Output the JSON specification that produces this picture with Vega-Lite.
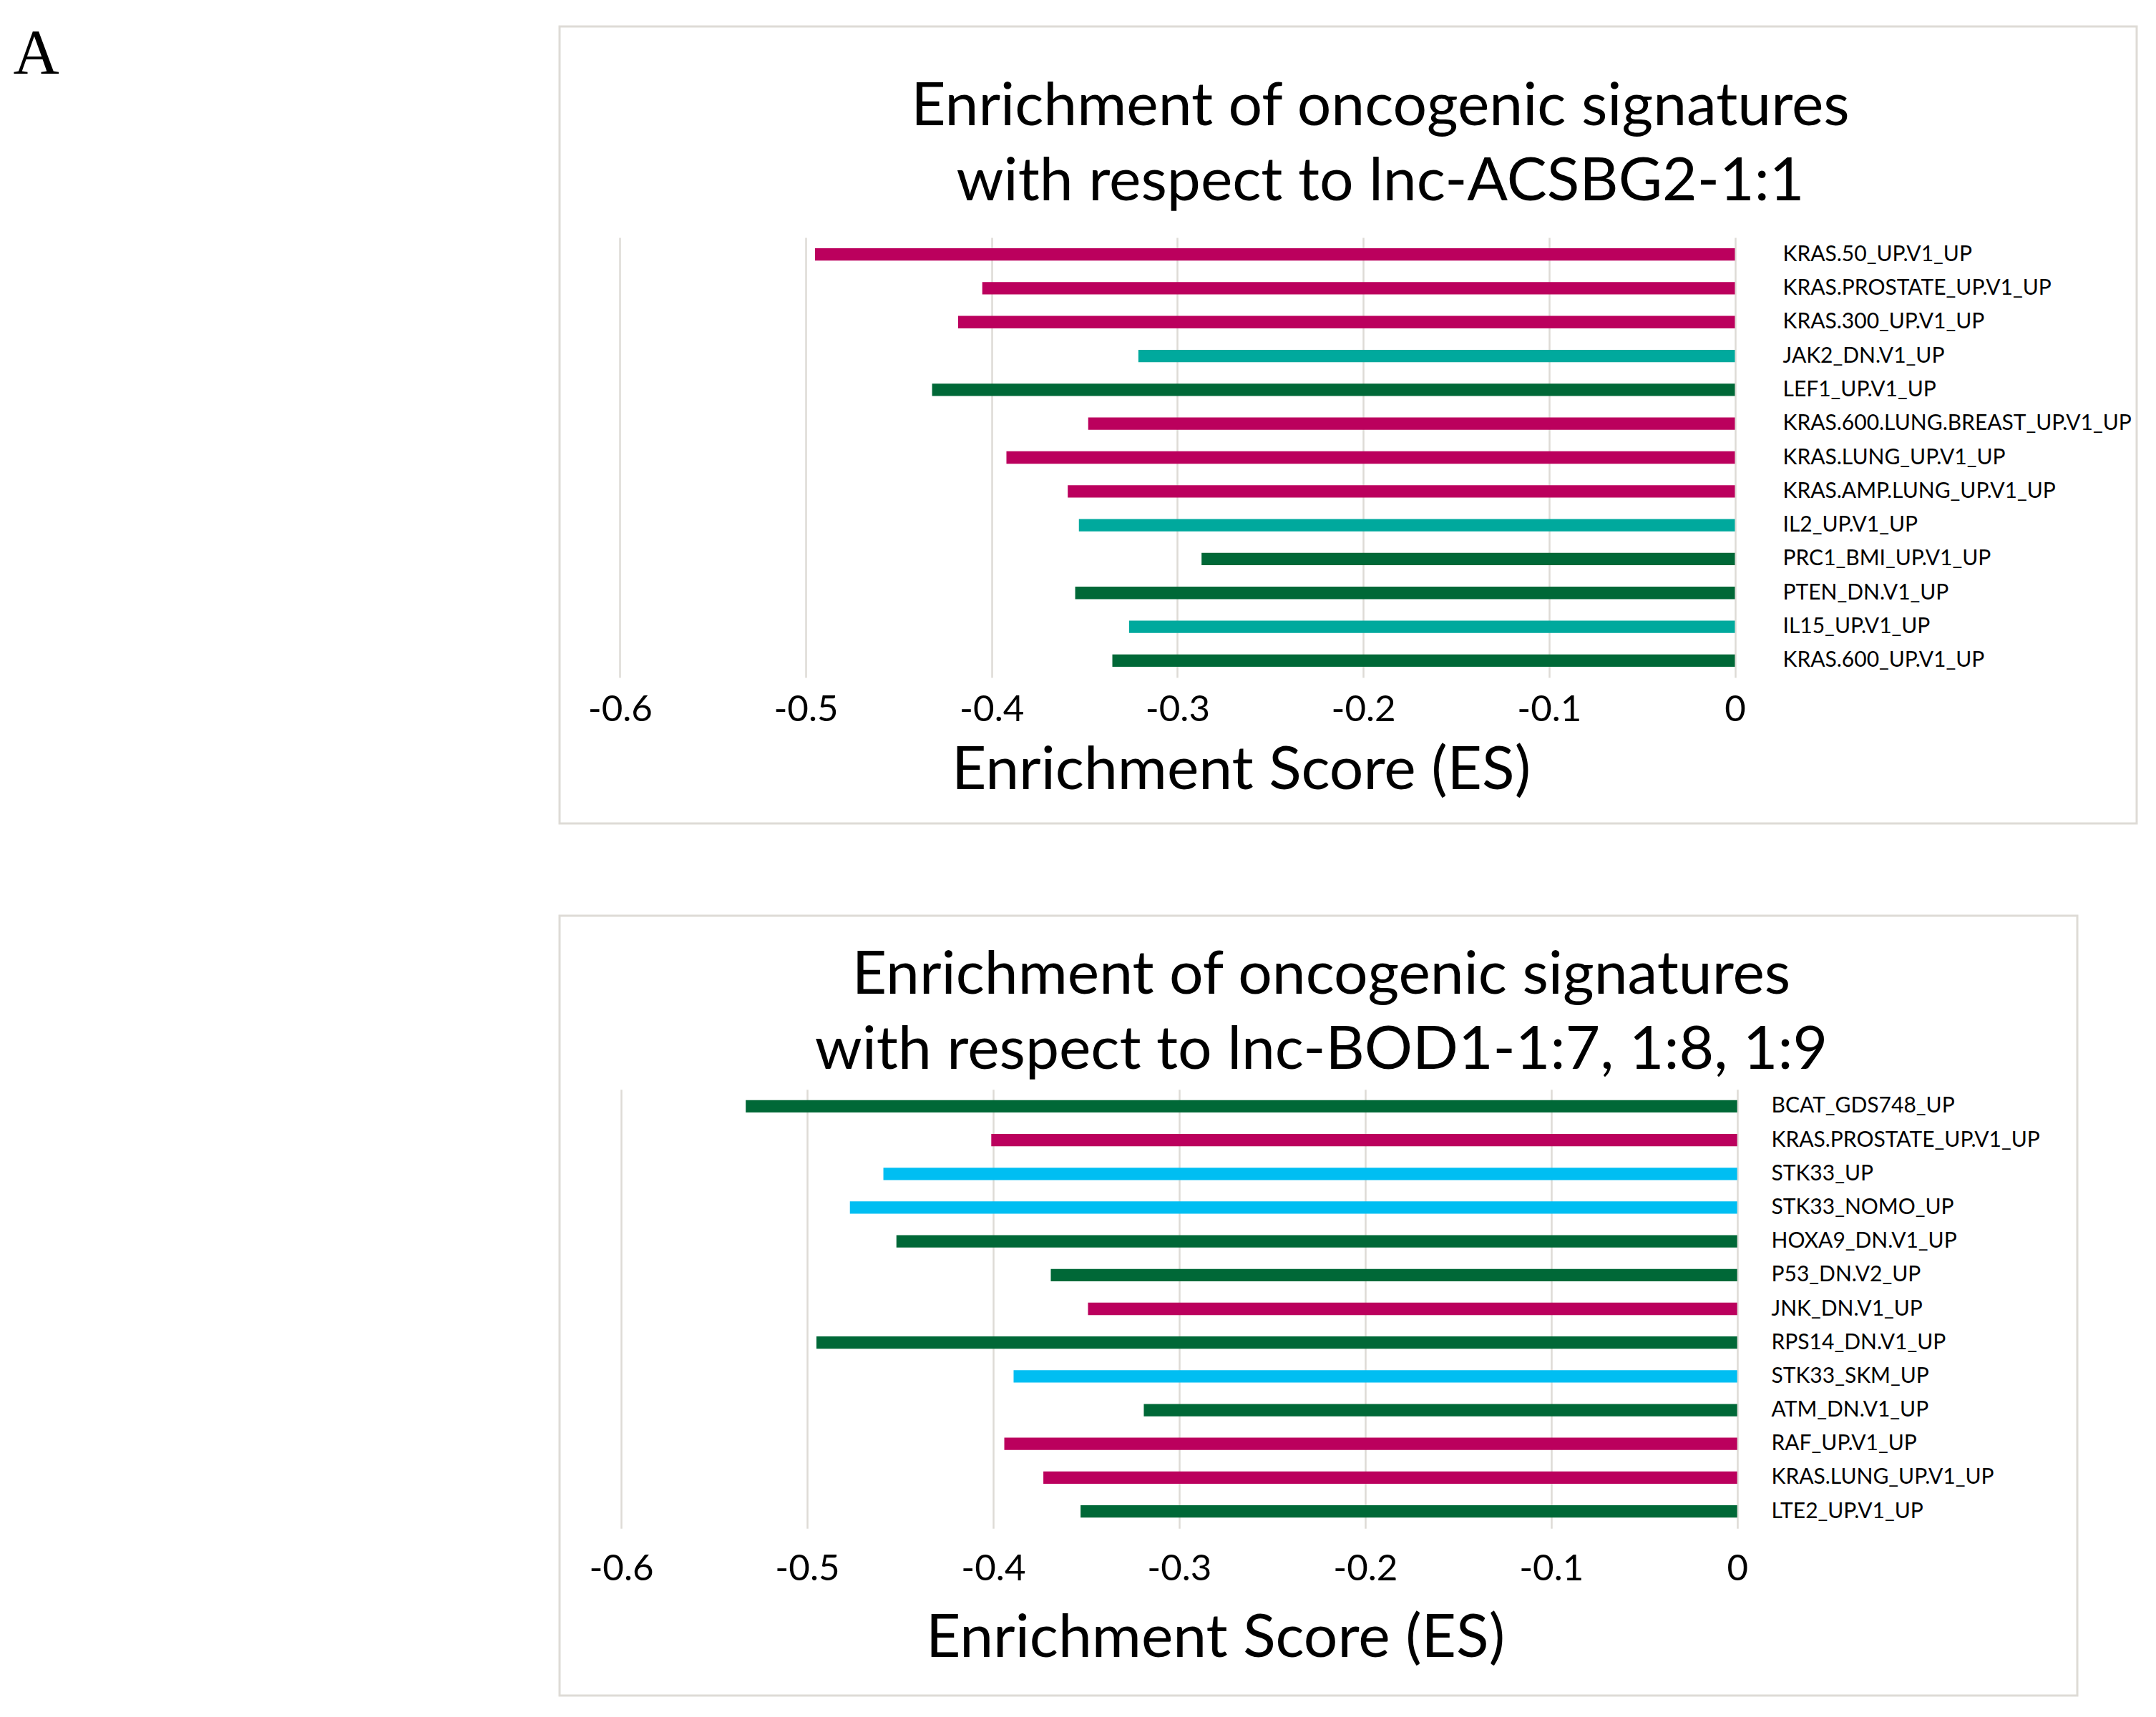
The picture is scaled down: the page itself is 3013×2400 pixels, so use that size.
{
  "$schema": "https://vega.github.io/schema/vega-lite/v6.json",
  "background": "white",
  "padding": {"left": 18, "top": 30, "right": 0, "bottom": 0},
  "autosize": {"type": "pad"},
  "title": {
    "text": "A",
    "anchor": "start",
    "frame": "bounds",
    "offset": -155,
    "dx": -762,
    "baseline": "alphabetic",
    "font": "Liberation Serif",
    "fontSize": 89,
    "fontWeight": "normal",
    "color": "black"
  },
  "datasets": {
    "top": [
      {"name": "KRAS.50_UP.V1_UP", "es": -0.495, "group": "KRAS/MAPK"},
      {"name": "KRAS.PROSTATE_UP.V1_UP", "es": -0.405, "group": "KRAS/MAPK"},
      {"name": "KRAS.300_UP.V1_UP", "es": -0.418, "group": "KRAS/MAPK"},
      {"name": "JAK2_DN.V1_UP", "es": -0.321, "group": "cytokine"},
      {"name": "LEF1_UP.V1_UP", "es": -0.432, "group": "other"},
      {"name": "KRAS.600.LUNG.BREAST_UP.V1_UP", "es": -0.348, "group": "KRAS/MAPK"},
      {"name": "KRAS.LUNG_UP.V1_UP", "es": -0.392, "group": "KRAS/MAPK"},
      {"name": "KRAS.AMP.LUNG_UP.V1_UP", "es": -0.359, "group": "KRAS/MAPK"},
      {"name": "IL2_UP.V1_UP", "es": -0.353, "group": "cytokine"},
      {"name": "PRC1_BMI_UP.V1_UP", "es": -0.287, "group": "other"},
      {"name": "PTEN_DN.V1_UP", "es": -0.355, "group": "other"},
      {"name": "IL15_UP.V1_UP", "es": -0.326, "group": "cytokine"},
      {"name": "KRAS.600_UP.V1_UP", "es": -0.335, "group": "other"}
    ],
    "bottom": [
      {"name": "BCAT_GDS748_UP", "es": -0.533, "group": "other"},
      {"name": "KRAS.PROSTATE_UP.V1_UP", "es": -0.401, "group": "KRAS/MAPK"},
      {"name": "STK33_UP", "es": -0.459, "group": "STK33"},
      {"name": "STK33_NOMO_UP", "es": -0.477, "group": "STK33"},
      {"name": "HOXA9_DN.V1_UP", "es": -0.452, "group": "other"},
      {"name": "P53_DN.V2_UP", "es": -0.369, "group": "other"},
      {"name": "JNK_DN.V1_UP", "es": -0.349, "group": "KRAS/MAPK"},
      {"name": "RPS14_DN.V1_UP", "es": -0.495, "group": "other"},
      {"name": "STK33_SKM_UP", "es": -0.389, "group": "STK33"},
      {"name": "ATM_DN.V1_UP", "es": -0.319, "group": "other"},
      {"name": "RAF_UP.V1_UP", "es": -0.394, "group": "KRAS/MAPK"},
      {"name": "KRAS.LUNG_UP.V1_UP", "es": -0.373, "group": "KRAS/MAPK"},
      {"name": "LTE2_UP.V1_UP", "es": -0.353, "group": "other"}
    ]
  },
  "bounds": "flush",
  "spacing": 129,
  "vconcat": [
    {
      "width": 2204,
      "height": 1114,
      "title": {
        "text": ["Enrichment of oncogenic signatures", "with respect to lnc-ACSBG2-1:1"],
        "anchor": "middle",
        "frame": "group",
        "offset": -327,
        "dx": 45,
        "baseline": "alphabetic",
        "lineHeight": 105,
        "font": "Lato",
        "fontSize": 84,
        "fontWeight": "normal",
        "color": "black"
      },
      "data": {"name": "top"},
      "mark": {"type": "bar"},
      "encoding": {
        "y": {
          "field": "name",
          "type": "nominal",
          "sort": null,
          "scale": {"range": [295, 910], "paddingInner": 0.634, "paddingOuter": 0.317},
          "axis": {
            "orient": "right", "offset": -495, "title": null,
            "domain": false, "ticks": false, "tickSize": 0, "labelPadding": 0, "grid": false,
            "labelFont": "Lato", "labelFontSize": 30, "labelColor": "black",
            "labelLimit": 0, "labelAlign": "left", "labelBaseline": "middle"
          }
        },
        "x": {
          "field": "es",
          "type": "quantitative",
          "stack": null,
          "scale": {"domain": [-0.6, 0], "range": [84.3, 1642.5], "nice": false, "zero": false},
          "axis": {
            "orient": "top", "offset": -970,
            "values": [-0.6, -0.5, -0.4, -0.3, -0.2, -0.1, 0],
            "labelExpr": "datum.value == 0 ? '0' : '-' + format(abs(datum.value), '.1f')",
            "grid": true, "gridColor": "#dedbd6", "gridWidth": 2.5,
            "domain": false, "ticks": false, "tickSize": 0, "labelPadding": 0,
            "labelBaseline": "alphabetic", "labelFlush": false, "labelOverlap": false,
            "labelFont": "Lato", "labelFontSize": 51, "labelColor": "black",
            "title": "Enrichment Score (ES)",
            "titleFont": "Lato", "titleFontSize": 84, "titleFontWeight": "normal", "titleColor": "black",
            "titleX": 952, "titleY": 95, "titleAlign": "center", "titleBaseline": "alphabetic"
          }
        },
        "color": {
          "field": "group",
          "type": "nominal",
          "scale": {"domain": ["KRAS/MAPK", "cytokine", "STK33", "other"], "range": ["#bb005d", "#00a99d", "#00bef2", "#006837"]},
          "legend": null
        }
      }
    },
    {
      "width": 2121,
      "height": 1090,
      "title": {
        "text": ["Enrichment of oncogenic signatures", "with respect to lnc-BOD1-1:7, 1:8, 1:9"],
        "anchor": "middle",
        "frame": "group",
        "offset": -298,
        "dx": 4,
        "baseline": "alphabetic",
        "lineHeight": 105,
        "font": "Lato",
        "fontSize": 84,
        "fontWeight": "normal",
        "color": "black"
      },
      "data": {"name": "bottom"},
      "mark": {"type": "bar"},
      "encoding": {
        "y": {
          "field": "name",
          "type": "nominal",
          "sort": null,
          "scale": {"range": [242.8, 856.2], "paddingInner": 0.634, "paddingOuter": 0.317},
          "axis": {
            "orient": "right", "offset": -428, "title": null,
            "domain": false, "ticks": false, "tickSize": 0, "labelPadding": 0, "grid": false,
            "labelFont": "Lato", "labelFontSize": 30, "labelColor": "black",
            "labelLimit": 0, "labelAlign": "left", "labelBaseline": "middle"
          }
        },
        "x": {
          "field": "es",
          "type": "quantitative",
          "stack": null,
          "scale": {"domain": [-0.6, 0], "range": [86, 1645.7], "nice": false, "zero": false},
          "axis": {
            "orient": "top", "offset": -928,
            "values": [-0.6, -0.5, -0.4, -0.3, -0.2, -0.1, 0],
            "labelExpr": "datum.value == 0 ? '0' : '-' + format(abs(datum.value), '.1f')",
            "grid": true, "gridColor": "#dedbd6", "gridWidth": 2.5,
            "domain": false, "ticks": false, "tickSize": 0, "labelPadding": 0,
            "labelBaseline": "alphabetic", "labelFlush": false, "labelOverlap": false,
            "labelFont": "Lato", "labelFontSize": 51, "labelColor": "black",
            "title": "Enrichment Score (ES)",
            "titleFont": "Lato", "titleFontSize": 84, "titleFontWeight": "normal", "titleColor": "black",
            "titleX": 916, "titleY": 107, "titleAlign": "center", "titleBaseline": "alphabetic"
          }
        },
        "color": {
          "field": "group",
          "type": "nominal",
          "scale": {"domain": ["KRAS/MAPK", "cytokine", "STK33", "other"], "range": ["#bb005d", "#00a99d", "#00bef2", "#006837"]},
          "legend": null
        }
      }
    }
  ],
  "config": {
    "view": {"stroke": "#dedbd6", "strokeWidth": 3},
    "font": "Lato"
  }
}
